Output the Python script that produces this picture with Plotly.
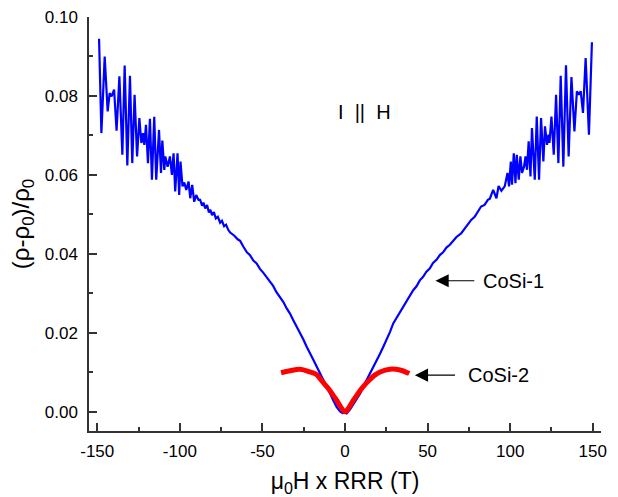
import plotly.graph_objects as go

# CoSi-1 (blue): field x RRR (T), (rho-rho0)/rho0
cosi1_x = [-148.9, -147.5, -145.5, -143.7, -142.5, -141.3, -139.8, -138.3, -136.6, -134.8,
           -133.4, -131.8, -130.2, -128.8, -127.4, -125.9, -124.5, -123.3, -122.3, -121.5,
           -120.5, -119.3, -118.1, -116.9, -115.5, -114.3, -112.6, -111.4, -110.6, -109.4,
           -108.8, -107.4, -106.0, -104.8, -103.8, -102.8, -101.4, -100.4, -99.6, -98.4,
           -97.3, -96.1, -94.7, -93.7, -92.5, -91.3, -90.1, -88.7, -87.7, -86.5,
           -85.7, -84.6, -83.5, -82.4, -81.6, -80.5, -79.4, -78.2, -77.0, -75.6,
           -74.5, -73.2, -72.0, -70.7, -69.5, -67.0, -65.0, -63.5, -61.5, -59.4,
           -57.5, -55.5, -53.5, -51.5, -49.4, -47.5, -45.5, -43.5, -41.5, -39.3,
           -37.3, -35.3, -33.3, -31.3, -29.3, -27.2, -25.2, -23.2, -21.2, -19.1,
           -17.1, -15.1, -13.1, -11.1, -9.1, -7.0, -5.0, -3.0, -1.5, 0.0,
           1.0, 3.0, 5.0, 7.0, 9.1, 11.1, 13.1, 15.1, 17.1, 19.1,
           21.2, 23.2, 25.2, 27.2, 29.2, 31.2, 33.2, 35.2, 37.2, 39.2,
           41.3, 43.3, 45.3, 47.3, 49.3, 51.3, 53.3, 55.4, 57.4, 59.4,
           61.4, 63.5, 65.5, 67.5, 70.3, 72.5, 74.5, 76.4, 78.5, 80.5,
           82.4, 84.5, 86.5, 87.7, 89.7, 91.7, 93.0, 94.7, 96.7, 98.4,
           99.3, 100.4, 101.1, 102.2, 103.2, 104.0, 105.2, 106.2, 107.2, 108.4,
           109.3, 110.2, 111.2, 112.3, 113.2, 114.9, 116.1, 117.5, 118.7, 120.1,
           121.1, 122.3, 123.2, 123.8, 125.0, 126.4, 127.8, 129.2, 130.6, 132.2,
           133.8, 135.4, 137.1, 138.9, 140.4, 141.5, 142.7, 144.1, 145.7, 147.7,
           149.5]
cosi1_y = [0.0945, 0.0706, 0.0900, 0.0761, 0.0807, 0.0799, 0.0816, 0.0712, 0.0850, 0.0651,
           0.0877, 0.0624, 0.0851, 0.0630, 0.0803, 0.0647, 0.0744, 0.0681, 0.0706, 0.0676,
           0.0727, 0.0630, 0.0742, 0.0588, 0.0747, 0.0588, 0.0714, 0.0605, 0.0687, 0.0613,
           0.0647, 0.0621, 0.0647, 0.0600, 0.0655, 0.0558, 0.0655, 0.0549, 0.0634, 0.0571,
           0.0581, 0.0562, 0.0583, 0.0541, 0.0575, 0.0532, 0.0549, 0.0537, 0.0537, 0.0522,
           0.0530, 0.0515, 0.0524, 0.0505, 0.0512, 0.0498, 0.0506, 0.0490, 0.0494, 0.0479,
           0.0484, 0.0470, 0.0474, 0.0461, 0.0454, 0.0446, 0.0437, 0.0433, 0.0418, 0.0404,
           0.0397, 0.0383, 0.0376, 0.0362, 0.0352, 0.0342, 0.0329, 0.0319, 0.0303, 0.0291,
           0.0278, 0.0262, 0.0249, 0.0232, 0.0217, 0.0199, 0.0183, 0.0165, 0.0150, 0.0131,
           0.0114, 0.0098, 0.0081, 0.0063, 0.0047, 0.0028, 0.0012, 0.0001, -0.0003, -0.0002,
           -0.0004, 0.0006, 0.0020, 0.0031, 0.0046, 0.0064, 0.0080, 0.0097, 0.0114, 0.0131,
           0.0147, 0.0165, 0.0182, 0.0202, 0.0224, 0.0238, 0.0254, 0.0266, 0.0282, 0.0294,
           0.0308, 0.0318, 0.0333, 0.0342, 0.0355, 0.0363, 0.0377, 0.0385, 0.0397, 0.0404,
           0.0416, 0.0423, 0.0432, 0.0443, 0.0452, 0.0465, 0.0474, 0.0486, 0.0494, 0.0508,
           0.0520, 0.0524, 0.0537, 0.0540, 0.0562, 0.0541, 0.0572, 0.0560, 0.0571, 0.0605,
           0.0571, 0.0634, 0.0575, 0.0655, 0.0579, 0.0651, 0.0588, 0.0647, 0.0605, 0.0621,
           0.0647, 0.0613, 0.0685, 0.0596, 0.0719, 0.0588, 0.0748, 0.0588, 0.0744, 0.0634,
           0.0723, 0.0676, 0.0702, 0.0681, 0.0748, 0.0651, 0.0803, 0.0630, 0.0851, 0.0621,
           0.0878, 0.0647, 0.0848, 0.0710, 0.0812, 0.0803, 0.0812, 0.0757, 0.0896, 0.0702,
           0.0936]

# CoSi-2 (red)
cosi2_x = [-38.7, -33.3, -27.2, -21.2, -17.1, -15.1, -12.5, -10.1, -7.5, -5.0, -2.5, 0.0,
           2.5, 5.0, 7.5, 10.1, 12.5, 15.1, 18.0, 21.2, 27.2, 33.3, 38.9]
cosi2_y = [0.0099, 0.0104, 0.0108, 0.0101, 0.0094, 0.0084, 0.0071, 0.0059, 0.0044, 0.0029, 0.0012, 0.0000,
           0.0012, 0.0029, 0.0044, 0.0059, 0.0071, 0.0082, 0.0093, 0.0101, 0.0108, 0.0106, 0.0097]

x_ticks = [-150, -100, -50, 0, 50, 100, 150]
x_tick_labels = ["-150", "-100", "-50", "0", "50", "100", "150"]
y_ticks = [0.00, 0.02, 0.04, 0.06, 0.08, 0.10]
y_tick_labels = ["0.00", "0.02", "0.04", "0.06", "0.08", "0.10"]

FONT = "Arial, Liberation Sans, sans-serif"
AX = "#333333"
NB = "\u00a0"

fig = go.Figure()
fig.add_trace(go.Scatter(x=cosi1_x, y=cosi1_y, mode="lines",
                         line=dict(color="#0000FF", width=2.2), name="CoSi-1"))
fig.add_trace(go.Scatter(x=cosi2_x, y=cosi2_y, mode="lines",
                         line=dict(color="#FF0000", width=5, shape="spline"), name="CoSi-2"))

fig.update_layout(
    width=618, height=497,
    margin=dict(l=89, r=17, t=17, b=66),
    paper_bgcolor="white", plot_bgcolor="white",
    showlegend=False,
    font=dict(family=FONT, color="black", size=17),
)
fig.update_xaxes(
    range=[-155, 155], tickvals=x_ticks, ticktext=x_tick_labels, ticks="inside", ticklen=8,
    tickwidth=1.5, tickcolor=AX, showline=True, linecolor=AX, linewidth=1.5, showgrid=False,
    zeroline=False, automargin=False,
    minor=dict(dtick=25, tick0=0, ticks="inside", ticklen=4, tickwidth=1.5, tickcolor=AX, showgrid=False),
    tickfont=dict(size=17), ticklabelstandoff=4,
    title=dict(text="μ<sub>0</sub>H x RRR (T)", font=dict(size=23), standoff=17),
)
fig.update_yaxes(
    range=[-0.00485, 0.10], tickvals=y_ticks, ticktext=y_tick_labels, ticks="inside", ticklen=8,
    tickwidth=1.5, tickcolor=AX, showline=True, linecolor=AX, linewidth=1.5, showgrid=False,
    zeroline=False, automargin=False,
    minor=dict(dtick=0.01, tick0=0, ticks="inside", ticklen=4, tickwidth=1.5, tickcolor=AX, showgrid=False),
    tickfont=dict(size=17), ticklabelstandoff=6,
    title=dict(text="(ρ-ρ<sub>0</sub>)/ρ<sub>0</sub>", font=dict(size=24), standoff=8),
)

fig.add_annotation(x=12.1, y=0.076, text="I" + NB * 2 + "||" + NB * 2 + "H", showarrow=False,
                   font=dict(size=20), xanchor="center", yanchor="middle")
fig.add_annotation(x=82.2, y=0.0332, text="CoSi-1", showarrow=False,
                   font=dict(size=20), xanchor="left", yanchor="middle")
fig.add_annotation(x=73.0, y=0.0093, text="CoSi-2", showarrow=False,
                   font=dict(size=20), xanchor="left", yanchor="middle")
fig.add_annotation(x=54.8, y=0.0332, ax=79.2, ay=0.0332, axref="x", ayref="y",
                   text="", showarrow=True, arrowhead=2, arrowsize=2.2, arrowwidth=1.2,
                   arrowcolor="black")
fig.add_annotation(x=42.3, y=0.0093, ax=67.5, ay=0.0093, axref="x", ayref="y",
                   text="", showarrow=True, arrowhead=2, arrowsize=2.2, arrowwidth=1.2,
                   arrowcolor="black")

fig.write_html("out.html")
